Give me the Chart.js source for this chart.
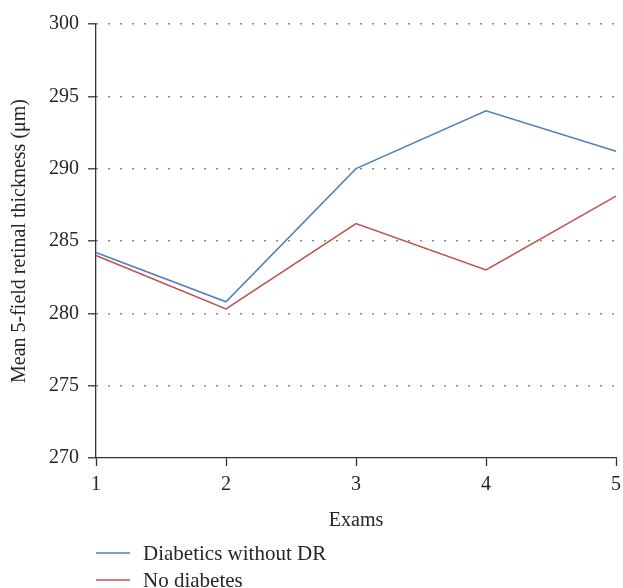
<!DOCTYPE html>
<html>
<head>
<meta charset="utf-8">
<script src="https://cdn.jsdelivr.net/npm/chart.js@4/dist/chart.umd.min.js"></script>
<style>
html,body{margin:0;padding:0;background:#fff;}
#wrap{width:623px;height:588px;}
</style>
</head>
<body>
<div id="wrap"><canvas id="c" width="623" height="588"></canvas></div>
<script>
const exams = ['1', '2', '3', '4', '5'];
const diabeticsNoDR = [284.2, 280.8, 290.0, 294.0, 291.2];
const noDiabetes = [284.0, 280.3, 286.2, 283.0, 288.1];
const yMin = 270, yMax = 300, yStep = 5;
const seriesNames = ['Diabetics without DR', 'No diabetes'];
const seriesColors = ['#4f7fc0', '#c0504d'];

const FONT = "'Liberation Serif', 'DejaVu Serif', serif";
const TXT = '#262626';

const legendPlugin = {
  id: 'customLegend',
  afterDraw(chart) {
    const ctx = chart.ctx;
    ctx.save();
    const ys = [553, 580];
    chart.data.datasets.forEach((ds, i) => {
      ctx.strokeStyle = ds.borderColor;
      ctx.lineWidth = 1.5;
      ctx.beginPath();
      ctx.moveTo(96, ys[i]);
      ctx.lineTo(130, ys[i]);
      ctx.stroke();
      ctx.fillStyle = TXT;
      ctx.font = '21px ' + FONT;
      ctx.textBaseline = 'middle';
      ctx.textAlign = 'left';
      ctx.fillText(ds.label, 143, ys[i] + 1);
    });
    ctx.restore();
  }
};

new Chart(document.getElementById('c'), {
  type: 'line',
  data: {
    labels: exams,
    datasets: [
      { label: seriesNames[0], data: diabeticsNoDR, borderColor: seriesColors[0], borderWidth: 1.5, pointRadius: 0, tension: 0, fill: false },
      { label: seriesNames[1], data: noDiabetes, borderColor: seriesColors[1], borderWidth: 1.5, pointRadius: 0, tension: 0, fill: false }
    ]
  },
  options: {
    responsive: false,
    animation: false,
    devicePixelRatio: 1,
    layout: { padding: { left: 0, right: 7, top: 24, bottom: 55 } },
    plugins: { legend: { display: false }, tooltip: { enabled: false } },
    scales: {
      x: {
        offset: false,
        grid: { drawOnChartArea: false, drawTicks: true, tickLength: 8, tickColor: '#333', tickWidth: 1.3 },
        border: { color: '#333', width: 1.3 },
        ticks: { color: TXT, font: { family: FONT, size: 20 }, padding: 7, maxRotation: 0 },
        title: { display: true, text: 'Exams', color: TXT, font: { family: FONT, size: 20 }, padding: { top: 1, bottom: 0 } },
        afterFit(scale) { scale.height = 75; scale.paddingRight = 0; scale.paddingLeft = 0; }
      },
      y: {
        min: yMin, max: yMax,
        grid: {
          color: (c) => (c.tick && c.tick.value === yMin) ? 'rgba(0,0,0,0)' : '#6f6f6f',
          lineWidth: 1.6,
          tickLength: 8, tickColor: '#333', tickWidth: 1.3, tickBorderDash: []
        },
        border: { color: '#333', width: 1.3, dash: [1.6, 10.4] },
        ticks: { stepSize: yStep, color: TXT, font: { family: FONT, size: 20 }, padding: 9 },
        title: { display: true, text: 'Mean 5-field retinal thickness (μm)', color: TXT, font: { family: FONT, size: 20 }, padding: { top: 8, bottom: 0 } },
        afterFit(scale) { scale.width = 96; }
      }
    }
  },
  plugins: [legendPlugin]
});
</script>
</body>
</html>
